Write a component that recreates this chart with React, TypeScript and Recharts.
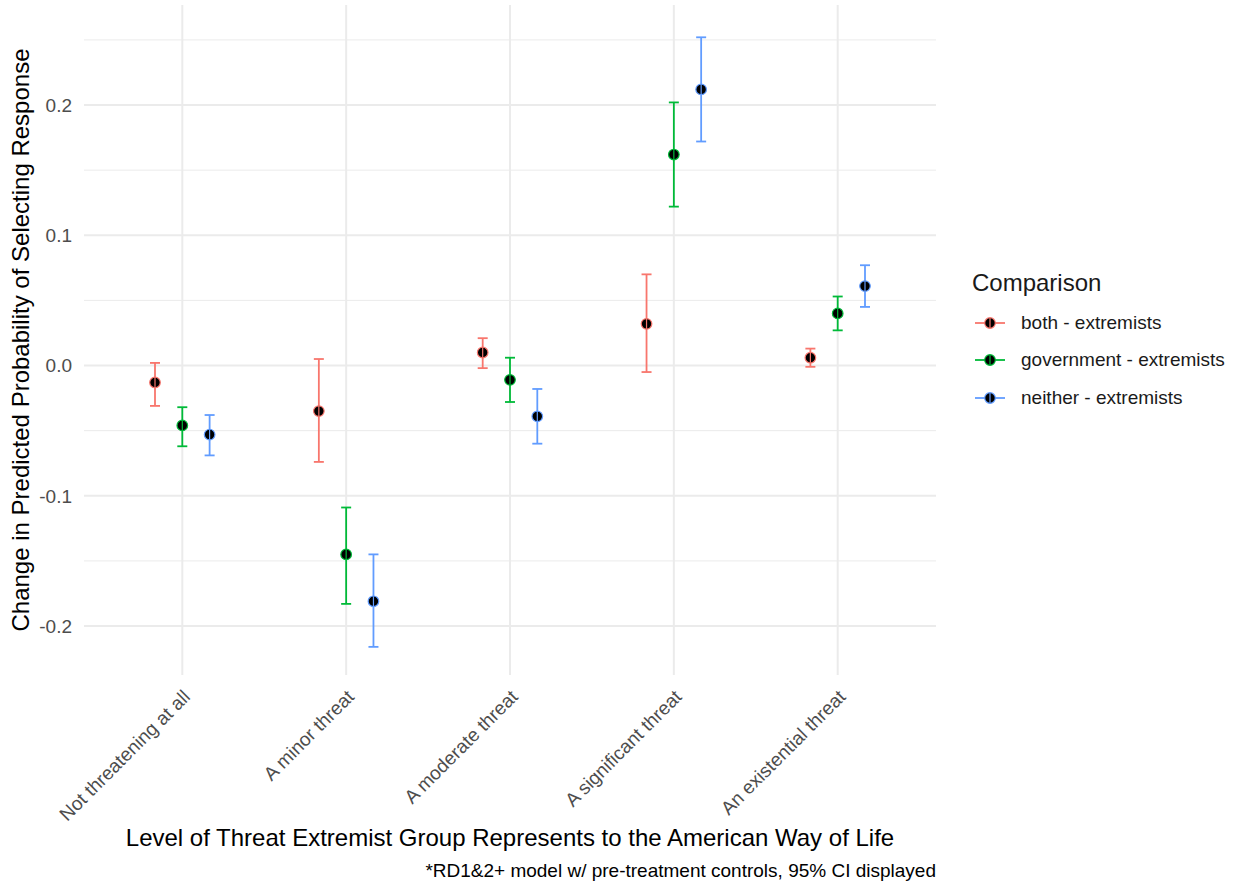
import React from "react"
import { ScatterChart, Scatter, XAxis, YAxis, CartesianGrid, ErrorBar, Legend } from "recharts"

const categories = [
  "Not threatening at all",
  "A minor threat",
  "A moderate threat",
  "A significant threat",
  "An existential threat",
]

const seriesNames = ["both - extremists", "government - extremists", "neither - extremists"]
const seriesColors = ["#F8766D", "#00BA38", "#619CFF"]
const dodge = [-1 / 6, 0, 1 / 6]

// point estimates and 95% CI bounds, per category
const bothEst = [-0.013, -0.035, 0.01, 0.032, 0.006]
const bothLow = [-0.031, -0.074, -0.002, -0.005, -0.001]
const bothHigh = [0.002, 0.005, 0.021, 0.07, 0.013]

const govEst = [-0.046, -0.145, -0.011, 0.162, 0.04]
const govLow = [-0.062, -0.183, -0.028, 0.122, 0.027]
const govHigh = [-0.032, -0.109, 0.006, 0.202, 0.053]

const neitherEst = [-0.053, -0.181, -0.039, 0.212, 0.061]
const neitherLow = [-0.069, -0.216, -0.06, 0.172, 0.045]
const neitherHigh = [-0.038, -0.145, -0.018, 0.252, 0.077]

const yTicks = [-0.2, -0.1, 0, 0.1, 0.2]
const yMinor = [-0.15, -0.05, 0.05, 0.15, 0.25]

const FONT = '"Liberation Sans", Arial, Helvetica, sans-serif'

const estimates = [bothEst, govEst, neitherEst]
const lows = [bothLow, govLow, neitherLow]
const highs = [bothHigh, govHigh, neitherHigh]

const seriesData = seriesNames.map((name, s) =>
  categories.map((cat, i) => ({
    x: i + 1 + dodge[s],
    y: estimates[s][i],
    err: [estimates[s][i] - lows[s][i], highs[s][i] - estimates[s][i]],
    category: cat,
  }))
)

const CatTick = (props: any) => {
  const { x, y, payload } = props
  const ax = x + 9
  const ay = y + 15
  return (
    <text
      x={ax}
      y={ay}
      textAnchor="end"
      transform={`rotate(-45 ${ax} ${ay})`}
      fontSize={19}
      fill="#4d4d4d"
      fontFamily={FONT}
    >
      {categories[Math.round(payload.value) - 1]}
    </text>
  )
}

const makeDot = (color: string) => (props: any) => {
  const { cx, cy } = props
  return (
    <g>
      <circle cx={cx} cy={cy} r={5.3} fill="#000" stroke={color} strokeWidth={1.2} />
      <line x1={cx} x2={cx} y1={cy - 5} y2={cy + 5} stroke={color} strokeWidth={1.2} />
    </g>
  )
}

const renderLegend = () => (
  <div style={{ fontFamily: FONT, color: "#1a1a1a" }}>
    <div style={{ fontSize: 24, lineHeight: "26px", paddingLeft: 12, marginBottom: 8 }}>Comparison</div>
    {seriesNames.map((name, i) => (
      <div key={name} style={{ display: "flex", alignItems: "center", height: 37.5 }}>
        <svg width={40} height={20} style={{ marginLeft: 10 }}>
          <line x1={5} x2={35} y1={10} y2={10} stroke={seriesColors[i]} strokeWidth={1.8} />
          <circle cx={20} cy={10} r={5.3} fill="#000" stroke={seriesColors[i]} strokeWidth={1.2} />
          <line x1={20} x2={20} y1={5} y2={15} stroke={seriesColors[i]} strokeWidth={1.2} />
        </svg>
        <span style={{ fontSize: 19, marginLeft: 11 }}>{name}</span>
      </div>
    ))}
  </div>
)

export default function App() {
  return (
    <div style={{ position: "absolute", left: 0, top: 0, background: "#fff" }}>
      <ScatterChart width={1233} height={884} margin={{ top: 5, right: 25, bottom: 0, left: 0 }}>
        <CartesianGrid
          vertical={false}
          horizontalValues={yMinor}
          syncWithTicks
          stroke="#EBEBEB"
          strokeWidth={1}
        />
        <CartesianGrid stroke="#EBEBEB" strokeWidth={2} syncWithTicks />
        <XAxis
          type="number"
          dataKey="x"
          domain={[0.4, 5.6]}
          ticks={[1, 2, 3, 4, 5]}
          interval={0}
          height={209}
          axisLine={false}
          tickLine={false}
          tick={<CatTick />}
          allowDataOverflow
          label={{
            content: (p: any) => {
              const vb = p.viewBox
              return (
                <g fontFamily={FONT}>
                  <text x={vb.x + vb.width / 2} y={846} textAnchor="middle" fontSize={24} fill="#000">
                    Level of Threat Extremist Group Represents to the American Way of Life
                  </text>
                  <text x={vb.x + vb.width} y={877} textAnchor="end" fontSize={19} fill="#000">
                    *RD1&amp;2+ model w/ pre-treatment controls, 95% CI displayed
                  </text>
                </g>
              )
            },
          }}
        />
        <YAxis
          type="number"
          dataKey="y"
          domain={[-0.2376, 0.2768]}
          ticks={yTicks}
          width={84}
          axisLine={false}
          tickLine={false}
          tickSize={5}
          tickMargin={7}
          allowDataOverflow
          tickFormatter={(v: number) => v.toFixed(1)}
          tick={{ fontSize: 19, fill: "#4d4d4d", fontFamily: FONT }}
          label={{
            content: (p: any) => {
              const vb = p.viewBox
              const cy = vb.y + vb.height / 2
              return (
                <text
                  x={29}
                  y={cy}
                  textAnchor="middle"
                  transform={`rotate(-90 29 ${cy})`}
                  fontSize={24}
                  fill="#000"
                  fontFamily={FONT}
                >
                  Change in Predicted Probability of Selecting Response
                </text>
              )
            },
          }}
        />
        {seriesNames.map((name, s) => (
          <Scatter
            key={name}
            name={name}
            data={seriesData[s]}
            fill="#000"
            shape={makeDot(seriesColors[s])}
            isAnimationActive={false}
          >
            <ErrorBar
              dataKey="err"
              direction="y"
              width={5}
              stroke={seriesColors[s]}
              strokeWidth={1.8}
              isAnimationActive={false}
            />
          </Scatter>
        ))}
        <Legend
          layout="horizontal"
          verticalAlign="middle"
          align="right"
          content={renderLegend}
          wrapperStyle={{ position: "absolute", left: 960, top: 270, width: 272 }}
        />
      </ScatterChart>
    </div>
  )
}
